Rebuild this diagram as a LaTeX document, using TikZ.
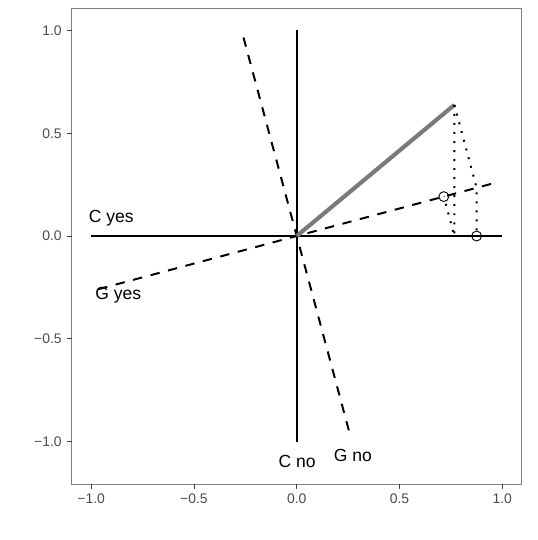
\documentclass[tikz,border=0pt]{standalone}
\usepackage{fontspec}
\setmainfont{Liberation Sans}
\usetikzlibrary{calc}

\begin{document}
\begin{tikzpicture}[x=4cm,y=4cm,
  cline/.style={line width=1.1pt},
  gline/.style={line width=1.1pt,dash pattern=on 5.2pt off 4.8pt},
  proj/.style={line width=1.1pt,dash pattern=on 1.1pt off 3.9pt},
  hit/.style={line width=0.5pt},
  lbl/.style={font=\fontsize{9.7}{11}\selectfont,anchor=base,inner sep=0pt},
  ticklbl/.style={font=\fontsize{7.7}{9}\selectfont,text=black!70,inner sep=0pt}]
  \useasboundingbox (-1.4438,-1.479) rectangle (1.1693,1.1484);
  % panel and axes
  \draw[black!50,line width=0.5pt] (-1.095,-1.207) rectangle (1.095,1.106);
  \foreach \v/\t [count=\i] in {-1/−1.0,-0.5/−0.5,0/0.0,0.5/0.5,1/1.0} {
    \draw[black!75,line width=0.5pt] (-1.1195,\v) -- (-1.095,\v);
    \draw[black!75,line width=0.5pt] (\v,-1.2315) -- (\v,-1.207);
    \node[ticklbl,anchor=east] (ytick\i) at (-1.142,\v) {\t};
    \node[ticklbl] (xtick\i) at (\v,-1.28) {\t};
  }
  % the two variables
  \coordinate (O) at (0,0);
  \coordinate (cL) at (-1,0);
  \coordinate (cR) at (1,0);
  \coordinate (cT) at (0,1);
  \coordinate (cB) at (0,-1);
  \coordinate (gL) at (-0.966,-0.259);
  \coordinate (gR) at (0.966,0.259);
  \coordinate (gT) at (-0.259,0.966);
  \coordinate (gB) at (0.259,-0.966);
  \draw[cline] (cL) -- (cR);
  \draw[cline] (cT) -- (cB);
  \draw[gline] (gL) -- (gR);
  \draw[gline] (gT) -- (gB);
  \node[lbl] (cyes) at (-0.902,0.065) {C yes};
  \node[lbl] (gyes) at (-0.868,-0.311) {G yes};
  \node[lbl] (cno) at (0.002,-1.127) {C no};
  \node[lbl] (gno) at (0.273,-1.098) {G no};
  % point and its projections
  \coordinate (P) at (0.767,0.638);
  \coordinate (pc) at ($(cL)!(P)!(cR)$);
  \coordinate (pcg) at ($(gL)!(pc)!(gR)$);
  \coordinate (pg) at ($(gL)!(P)!(gR)$);
  \coordinate (pgc) at ($(cL)!(pg)!(cR)$);
  \draw[black!52,line width=2.3pt] (O) -- (P);
  \draw[proj] (P) -- (pc) -- (pcg);
  \draw[proj] (P) -- (pg) -- (pgc);
  \draw[hit] (pcg) circle (0.024);
  \draw[hit] (pgc) circle (0.024);
\end{tikzpicture}
\end{document}
